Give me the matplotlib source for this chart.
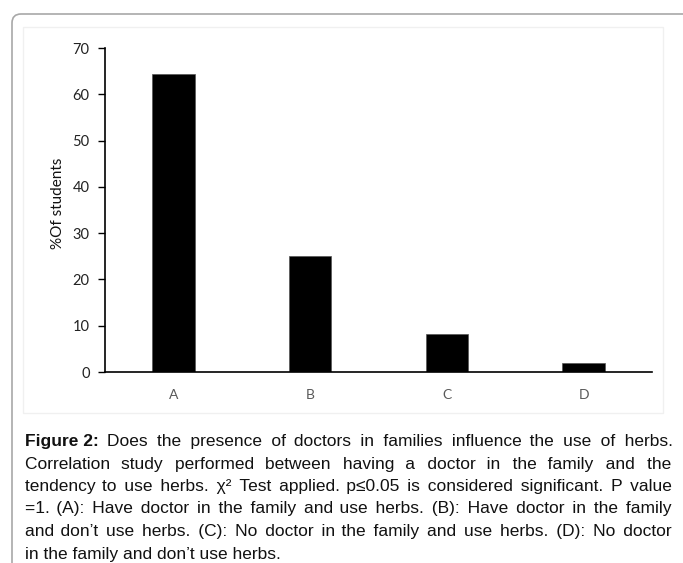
"""Figure 2: share of students by doctor-in-family / herb use group."""

import matplotlib
matplotlib.use("Agg")
import matplotlib.pyplot as plt
from matplotlib.patches import FancyBboxPatch

# data
groups = ["A", "B", "C", "D"]
pct_students = [64.3, 25.0, 8.3, 1.9]
y_ticks = [0, 10, 20, 30, 40, 50, 60, 70]

caption_bold = "Figure 2:"
caption_lines = [
    "Does the presence of doctors in families influence the use of herbs.",
    "Correlation study performed between having a doctor in the family and the",
    "tendency to use herbs. χ² Test applied. p≤0.05 is considered significant. P value",
    "=1. (A): Have doctor in the family and use herbs. (B): Have doctor in the family",
    "and don\u2019t use herbs. (C): No doctor in the family and use herbs. (D): No doctor",
    "in the family and don\u2019t use herbs.",
]

W, H = 683, 563
AX_FONT = ["Lato", "DejaVu Sans"]
CAP_FONT = ["Liberation Sans", "DejaVu Sans"]
CAP_SIZE = 12.5
HAIR = "\u200a"

fig = plt.figure(figsize=(W / 100, H / 100), dpi=100)
fig.patch.set_facecolor("white")

# outer rounded frame (runs off the right/bottom edge) and faint chart-area box
fig.patches.append(FancyBboxPatch((0.12, -0.3), 7.2, 5.79,
                                  boxstyle="round,pad=0,rounding_size=0.09",
                                  transform=fig.dpi_scale_trans, fill=False,
                                  edgecolor="#a8a8a8", linewidth=1.2))
fig.patches.append(FancyBboxPatch((0.23, 1.50), 6.40, 3.86, boxstyle="square,pad=0",
                                  transform=fig.dpi_scale_trans, fill=False,
                                  edgecolor="#f0f0f0", linewidth=1.0))

ax = fig.add_axes([105 / W, 1 - 372 / H, (652 - 105) / W, (372 - 48) / H])
x = list(range(len(groups)))
ax.bar(x, pct_students, width=0.31, color="black", edgecolor="#555555", linewidth=0.5)

ax.set_xlim(-0.5, len(groups) - 0.5)
ax.set_ylim(0, 70)
ax.set_yticks(y_ticks)
ax.set_xticks(x)
ax.set_xticklabels(groups)
ax.set_ylabel("%Of students", family=AX_FONT, fontsize=11, color="#111111")
ax.yaxis.set_label_coords(-0.073, 0.522)

for s in ("top", "right"):
    ax.spines[s].set_visible(False)
for s in ("left", "bottom"):
    ax.spines[s].set_linewidth(1.2)
    ax.spines[s].set_color("black")
ax.tick_params(axis="y", direction="out", length=5, width=1.0, pad=6,
               labelsize=10.5, labelcolor="#222222")
ax.tick_params(axis="x", length=0, pad=12, labelsize=10, labelcolor="#595959")
for lab in ax.get_xticklabels() + ax.get_yticklabels():
    lab.set_family(AX_FONT)

# caption, justified by padding the word gaps with hair spaces
renderer = fig.canvas.get_renderer()


def width(s, weight="normal"):
    t = fig.text(0, 0, s, fontsize=CAP_SIZE, family=CAP_FONT, fontweight=weight)
    w = t.get_window_extent(renderer).width
    t.remove()
    return w


hair_w = (width("x" + HAIR * 20 + "x") - width("xx")) / 20
space_w = width("x x") - width("xx")
left, right = 25, 672
baseline0, step = 446, 22.5

for i, line in enumerate(caption_lines):
    y = 1 - (baseline0 + i * step) / H
    x0 = left
    words = line.split(" ")
    gaps = len(words) - 1
    if i == 0:
        fig.text(left / W, y, caption_bold, fontsize=CAP_SIZE, fontweight="bold",
                 family=CAP_FONT, color="#111111", va="baseline")
        x0 = left + width(caption_bold, "bold")
        gaps += 1  # gap between the bold label and the sentence
    if i < len(caption_lines) - 1:
        natural = x0 - left + width(line) + (space_w if i == 0 else 0)
        k = max(0, round((right - left - natural) / hair_w))
        pads = [(j + 1) * k // gaps - j * k // gaps for j in range(gaps)]
    else:
        pads = [0] * gaps
    if i == 0:
        x0 += space_w + pads[0] * hair_w
        pads = pads[1:]
    text = words[0]
    for w, p in zip(words[1:], pads):
        text += " " + HAIR * p + w
    fig.text(x0 / W, y, text, fontsize=CAP_SIZE, family=CAP_FONT,
             color="#111111", va="baseline")

fig.savefig("out.png", dpi=100, facecolor="white")
